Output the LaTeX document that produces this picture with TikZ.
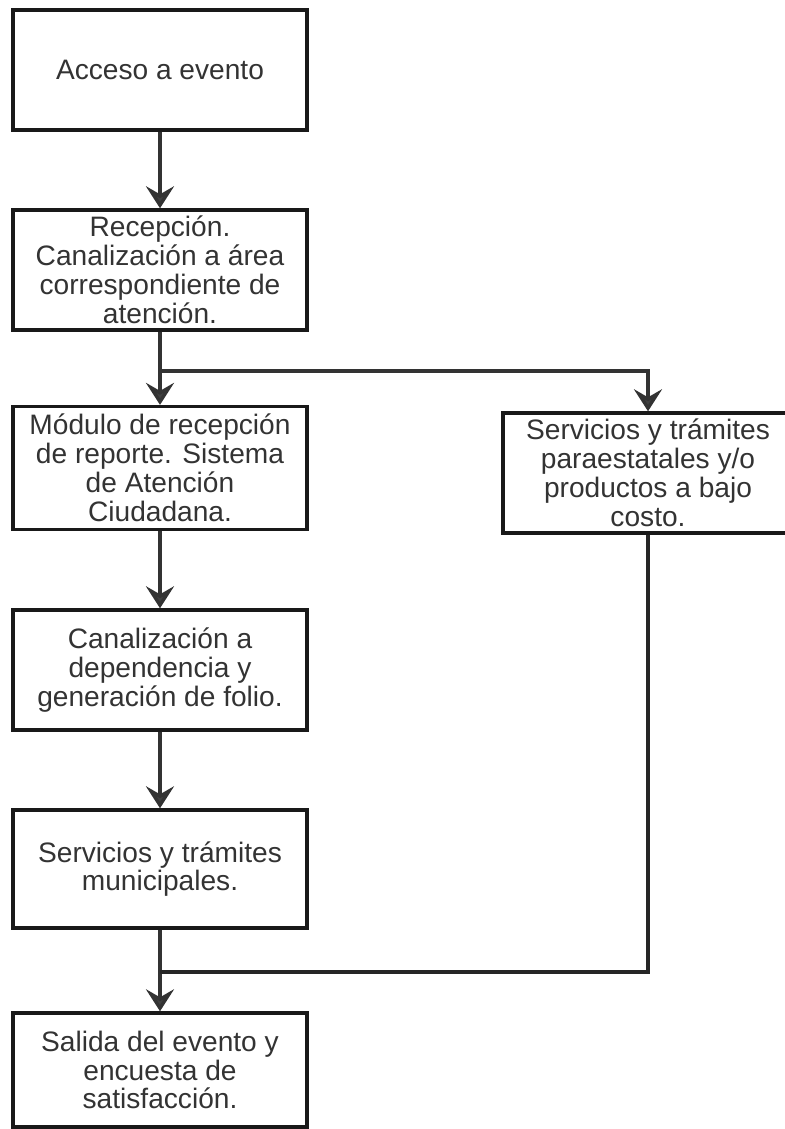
\documentclass[tikz,border=0pt]{standalone}
\usepackage{fontspec}
\setmainfont{Liberation Sans}
\usepackage{tikz}
\usetikzlibrary{arrows.meta,positioning,calc}

\begin{document}
\begin{tikzpicture}
  [x=0.025cm,y=-0.025cm,
   paso/.style={rectangle, draw=black!90, line width=2.4pt, fill=white,
     minimum width=7.35cm, minimum height=3cm, inner sep=0pt,
     align=center, text=black!80, font=\fontsize{20}{20.5}\selectfont},
   flecha/.style={draw=black!80, line width=2.4pt,
     -{Stealth[length=0.55cm, width=0.7cm, inset=0.2cm, fill=black!75]}},
   linea/.style={draw=black!85, line width=2.4pt}]
  \useasboundingbox (0,0) rectangle (784,1129);

  % columna izquierda
  \node [paso] (acceso) at (160,70) {Acceso a evento};
  \node [paso] (recepcion) at (160,270) {Recepción.\\Canalización a área\\correspondiente de\\atención.};
  \node [paso, minimum height=3.07cm] (modulo) at (160,468) {Módulo de recepción\\de reporte. Sistema\\de Atención\\Ciudadana.};
  \node [paso] (canalizacion) at (160,670) {Canalización a\\dependencia y\\generación de folio.};
  \node [paso, minimum height=2.95cm] (municipal) at (160,869) {Servicios y trámites\\municipales.};
  \node [paso, minimum height=2.85cm] (salida) at (160,1070) {Salida del evento y\\encuesta de\\satisfacción.};

  % columna derecha
  \node [paso, minimum width=7.25cm] (paraestatal) at (648,473) {Servicios y trámites\\paraestatales y/o\\productos a bajo\\costo.};

  \coordinate (rama) at (160,371);
  \coordinate (union) at (160,972);

  \path [flecha]
  (acceso) edge (recepcion)
  (recepcion) edge (modulo)
  (modulo) edge (canalizacion)
  (canalizacion) edge (municipal)
  (municipal) edge (salida);

  \draw [flecha] (rama) -- (rama -| paraestatal) -- (paraestatal.north);
  \draw [linea] (paraestatal.south) -- (paraestatal.south |- union) -- (union);

\end{tikzpicture}
\end{document}
